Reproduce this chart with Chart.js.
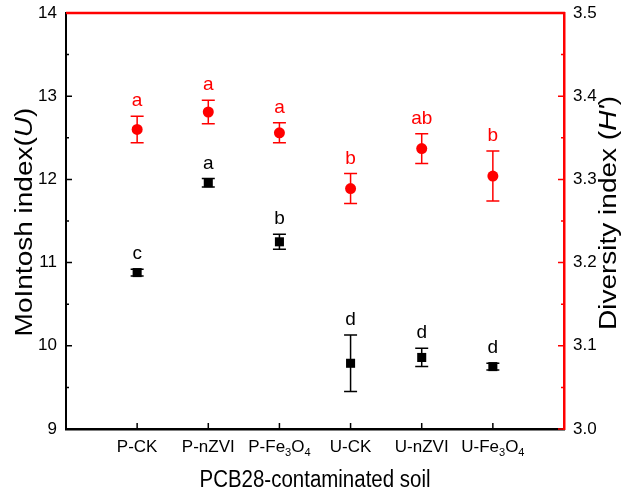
<!DOCTYPE html>
<html><head><meta charset="utf-8">
<script src="https://cdn.jsdelivr.net/npm/chart.js@4/dist/chart.umd.min.js"></script>
<style>html,body{margin:0;padding:0;background:#fff;}canvas{display:block;}</style>
</head><body>
<canvas id="c" width="627" height="499"></canvas>
<script>
const categories = ['P-CK', 'P-nZVI', 'P-Fe₃O₄', 'U-CK', 'U-nZVI', 'U-Fe₃O₄'];
const mcintosh = [10.88, 11.96, 11.25, 9.79, 9.86, 9.75];
const mcintoshErr = [0.04, 0.05, 0.09, 0.34, 0.11, 0.04];
const mcintoshLetters = ['c', 'a', 'b', 'd', 'd', 'd'];
const diversity = [3.360, 3.381, 3.356, 3.289, 3.337, 3.304];
const diversityErr = [0.016, 0.014, 0.012, 0.018, 0.018, 0.030];
const diversityLetters = ['a', 'a', 'a', 'b', 'ab', 'b'];
const leftTicks = [9, 10, 11, 12, 13, 14];
const rightTicks = [3.0, 3.1, 3.2, 3.3, 3.4, 3.5];
const xTitle = 'PCB28-contaminated soil';
const leftTitle = [['MoIntosh index(', false], ['U', true], [')', false]];
const rightTitle = [['Diversity index (', false], ["H'", true], [')', false]];

const FONT = '"Liberation Sans", Arial, sans-serif';
const RED = '#ff0000';
const SUBS = {'₀':'0','₁':'1','₂':'2','₃':'3','₄':'4','₅':'5','₆':'6','₇':'7','₈':'8','₉':'9'};

function drawSubText(ctx, text, cx, cy, size) {
  const parts = [];
  for (const ch of text) {
    const sub = SUBS[ch] !== undefined;
    const c = sub ? SUBS[ch] : ch;
    if (parts.length && parts[parts.length-1].sub === sub) parts[parts.length-1].t += c;
    else parts.push({t: c, sub});
  }
  let w = 0;
  parts.forEach(p => { ctx.font = (p.sub ? size*0.65 : size) + 'px ' + FONT; p.w = ctx.measureText(p.t).width; w += p.w; });
  let x = cx - w/2;
  ctx.textAlign = 'left'; ctx.textBaseline = 'alphabetic';
  parts.forEach(p => {
    ctx.font = (p.sub ? size*0.65 : size) + 'px ' + FONT;
    ctx.fillText(p.t, x, cy + size*0.36 + (p.sub ? size*0.25 : 0));
    x += p.w;
  });
}
function drawRich(ctx, segs, cx, cy, size) {
  let w = 0;
  const m = segs.map(([t, it]) => { ctx.font = (it ? 'italic ' : '') + size + 'px ' + FONT; const ww = ctx.measureText(t).width; w += ww; return ww; });
  let x = cx - w/2;
  ctx.textAlign = 'left'; ctx.textBaseline = 'middle';
  segs.forEach(([t, it], i) => { ctx.font = (it ? 'italic ' : '') + size + 'px ' + FONT; ctx.fillText(t, x, cy); x += m[i]; });
}
function noPad(s) { s.paddingTop = 0; s.paddingBottom = 0; s.paddingLeft = 0; s.paddingRight = 0; }

const decor = {
  id: 'decor',
  beforeDatasetsDraw(chart) {
    const ctx = chart.ctx, xs = chart.scales.x;
    const sets = [[mcintosh, mcintoshErr, chart.scales.y, '#000'], [diversity, diversityErr, chart.scales.y1, RED]];
    ctx.save();
    ctx.lineWidth = 1.5;
    sets.forEach(([vals, errs, ys, col]) => {
      ctx.strokeStyle = col;
      vals.forEach((v, i) => {
        const x = xs.getPixelForValue(i + 1);
        const yt = ys.getPixelForValue(v + errs[i]), yb = ys.getPixelForValue(v - errs[i]);
        ctx.beginPath();
        ctx.moveTo(x, yt); ctx.lineTo(x, yb);
        ctx.moveTo(x - 6.5, yt); ctx.lineTo(x + 6.5, yt);
        ctx.moveTo(x - 6.5, yb); ctx.lineTo(x + 6.5, yb);
        ctx.stroke();
      });
    });
    ctx.restore();
  },
  afterDatasetsDraw(chart) {
    const ctx = chart.ctx, xs = chart.scales.x;
    const sets = [[mcintosh, mcintoshErr, mcintoshLetters, chart.scales.y, '#000'], [diversity, diversityErr, diversityLetters, chart.scales.y1, RED]];
    ctx.save();
    ctx.font = '19px ' + FONT; ctx.textAlign = 'center'; ctx.textBaseline = 'alphabetic';
    sets.forEach(([vals, errs, lets, ys, col]) => {
      ctx.fillStyle = col;
      vals.forEach((v, i) => {
        ctx.fillText(lets[i], xs.getPixelForValue(i + 1), ys.getPixelForValue(v + errs[i]) - 10);
      });
    });
    ctx.restore();
  },
  afterDraw(chart) {
    const ctx = chart.ctx, a = chart.chartArea, xs = chart.scales.x, y = chart.scales.y, y1 = chart.scales.y1;
    ctx.save();
    ctx.lineWidth = 1.5;
    ctx.strokeStyle = '#000';
    ctx.beginPath();
    for (let v = 9; v <= 14.001; v += 0.5) {
      const p = y.getPixelForValue(v), len = Math.abs(v - Math.round(v)) < 1e-6 ? 6 : 3;
      ctx.moveTo(a.left, p); ctx.lineTo(a.left + len, p);
    }
    categories.forEach((c, i) => { const p = xs.getPixelForValue(i + 1); ctx.moveTo(p, a.bottom); ctx.lineTo(p, a.bottom - 6); });
    ctx.stroke();
    ctx.strokeStyle = RED;
    ctx.beginPath();
    for (let v = 3.0; v <= 3.5001; v += 0.05) {
      const p = y1.getPixelForValue(v), len = Math.abs(v*10 - Math.round(v*10)) < 1e-6 ? 6 : 3;
      ctx.moveTo(a.right, p); ctx.lineTo(a.right - len, p);
    }
    ctx.stroke();
    ctx.lineWidth = 2.5;
    ctx.beginPath(); ctx.moveTo(a.left, a.top); ctx.lineTo(a.right + 1, a.top); ctx.stroke();
    ctx.fillStyle = '#000';
    categories.forEach((c, i) => drawSubText(ctx, c, xs.getPixelForValue(i + 1), 446, 17));
    ctx.save();
    ctx.translate((a.left + a.right) / 2, 481); ctx.scale(0.89, 1);
    ctx.font = '23px ' + FONT; ctx.textAlign = 'center'; ctx.textBaseline = 'middle';
    ctx.fillText(xTitle, 0, 0);
    ctx.restore();
    ctx.save(); ctx.translate(25, 222); ctx.rotate(-Math.PI / 2); ctx.scale(1, 0.88); drawRich(ctx, leftTitle, 0, 0, 28); ctx.restore();
    ctx.save(); ctx.translate(609, 213); ctx.rotate(-Math.PI / 2); ctx.scale(1, 0.88); drawRich(ctx, rightTitle, 0, 0, 28); ctx.restore();
    ctx.restore();
  }
};

new Chart(document.getElementById('c'), {
  type: 'scatter',
  data: {
    datasets: [
      { data: mcintosh.map((v, i) => ({x: i + 1, y: v})), yAxisID: 'y', pointStyle: 'rect', pointRadius: 6.4, backgroundColor: '#000', borderColor: '#000', borderWidth: 0 },
      { data: diversity.map((v, i) => ({x: i + 1, y: v})), yAxisID: 'y1', pointStyle: 'circle', pointRadius: 5.5, backgroundColor: RED, borderColor: RED, borderWidth: 0 }
    ]
  },
  options: {
    responsive: false, animation: false, devicePixelRatio: 1,
    layout: { padding: { top: 13, left: 0, right: 0, bottom: 0 } },
    plugins: { legend: { display: false }, tooltip: { enabled: false } },
    scales: {
      x: { type: 'linear', min: 0, max: 7, position: 'bottom',
        afterBuildTicks: s => { s.ticks = categories.map((c, i) => ({value: i + 1})); },
        ticks: { display: false },
        grid: { drawOnChartArea: false, drawTicks: false },
        border: { display: true, color: '#000', width: 2.5 },
        afterFit: s => { s.height = 70; noPad(s); } },
      y: { position: 'left', min: 9, max: 14,
        afterBuildTicks: s => { s.ticks = leftTicks.map(v => ({value: v})); },
        ticks: { font: { family: FONT, size: 17 }, color: '#000', padding: 9 },
        grid: { drawOnChartArea: false, drawTicks: false },
        border: { display: true, color: '#000', width: 2 },
        afterFit: s => { s.width = 66; noPad(s); } },
      y1: { position: 'right', min: 3.0, max: 3.5,
        afterBuildTicks: s => { s.ticks = rightTicks.map(v => ({value: v})); },
        ticks: { font: { family: FONT, size: 17 }, color: '#000', padding: 9, callback: v => v.toFixed(1) },
        grid: { drawOnChartArea: false, drawTicks: false },
        border: { display: true, color: RED, width: 2.5 },
        afterFit: s => { s.width = 63; noPad(s); } }
    }
  },
  plugins: [decor]
});
</script>
</body></html>
